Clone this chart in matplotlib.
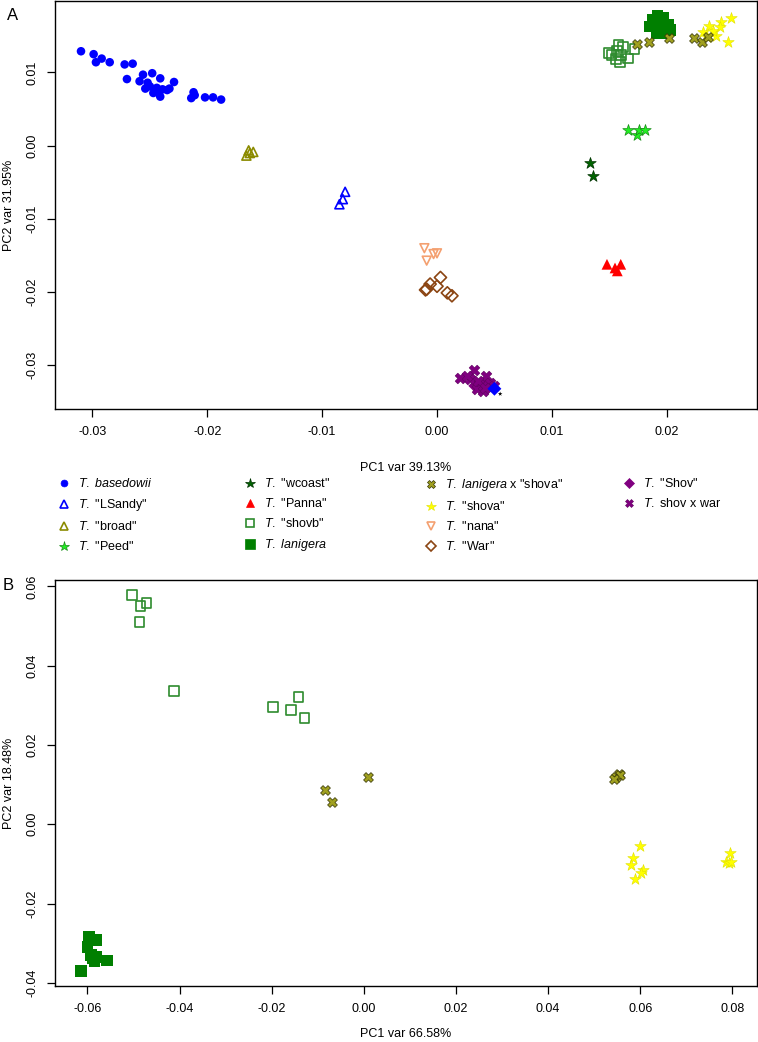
import matplotlib
matplotlib.use("Agg")
import matplotlib.pyplot as plt
from matplotlib.lines import Line2D
from matplotlib.ticker import MultipleLocator, FormatStrFormatter

plt.rcParams["font.family"] = ["Liberation Sans", "DejaVu Sans"]
plt.rcParams["mathtext.fontset"] = "custom"
plt.rcParams["mathtext.rm"] = "Liberation Sans"
plt.rcParams["mathtext.it"] = "Liberation Sans:italic"
plt.rcParams["axes.unicode_minus"] = False

# ---- panel A data (PC1, PC2) ----
basedowii_x = [-0.0310, -0.0299, -0.0297, -0.0292, -0.0285, -0.0272, -0.0265, -0.0270, -0.0259, -0.0256,
               -0.0252, -0.0248, -0.0254, -0.0250, -0.0241, -0.0245, -0.0244, -0.0241, -0.0239, -0.0235,
               -0.0233, -0.0229, -0.0214, -0.0212, -0.0211, -0.0202, -0.0195, -0.0188, -0.0242, -0.0247]
basedowii_y = [0.0129, 0.0125, 0.0114, 0.0119, 0.0114, 0.0111, 0.0112, 0.0091, 0.0088, 0.0097,
               0.0086, 0.0099, 0.0078, 0.0081, 0.0092, 0.0077, 0.0079, 0.0067, 0.0077, 0.0076,
               0.0078, 0.0087, 0.0065, 0.0073, 0.0069, 0.0066, 0.0066, 0.0063, 0.0073, 0.0072]
lsandy_x = [-0.0080, -0.0082, -0.0085]
lsandy_y = [-0.0063, -0.0073, -0.0080]
broad_x = [-0.0166, -0.0164, -0.0160, -0.0163]
broad_y = [-0.00135, -0.00064, -0.00085, -0.0010]
peed_x = [0.0166, 0.0174, 0.0176, 0.0181]
peed_y = [0.0022, 0.0015, 0.0022, 0.0022]
wcoast_x = [0.0133, 0.0136]
wcoast_y = [-0.0023, -0.0042]
panna_x = [0.0148, 0.0155, 0.0157, 0.0160]
panna_y = [-0.0162, -0.0167, -0.0171, -0.0162]
shovb_x = [0.0150, 0.0157, 0.0158, 0.0162, 0.0156, 0.0159, 0.0166, 0.0172, 0.0152, 0.0160]
shovb_y = [0.0127, 0.0129, 0.0138, 0.0135, 0.0118, 0.0114, 0.0119, 0.0132, 0.0124, 0.0124]
lanigera_x = [0.0185, 0.0192, 0.0197, 0.0201, 0.0191, 0.0198, 0.0194, 0.0188, 0.0203]
lanigera_y = [0.0163, 0.0177, 0.0174, 0.0165, 0.0154, 0.0154, 0.0167, 0.0172, 0.0158]
shova_x = [0.0256, 0.0247, 0.0246, 0.0237, 0.0232, 0.0243, 0.0253, 0.0240, 0.0235]
shova_y = [0.0175, 0.0169, 0.0162, 0.0163, 0.0155, 0.0150, 0.0142, 0.0156, 0.0149]
lanxshova_x = [0.0174, 0.0185, 0.0202, 0.0224, 0.0231, 0.0236]
lanxshova_y = [0.0139, 0.0141, 0.0147, 0.0147, 0.0141, 0.0148]
nana_x = [-0.0011, -0.0003, 0.0000, -0.0009]
nana_y = [-0.0140, -0.0148, -0.0147, -0.0157]
war_x = [0.0003, -0.0006, -0.0009, 0.0000, 0.0009, 0.0013, -0.0010]
war_y = [-0.0180, -0.0189, -0.0196, -0.0192, -0.0201, -0.0205, -0.0197]
shov_x = [0.0033, 0.0042]
shov_y = [-0.0328, -0.0328]
shovxwar_x = [0.0020, 0.0032, 0.0043, 0.0029, 0.0037, 0.0035, 0.0046, 0.0050, 0.0040, 0.0026, 0.0036, 0.0042]
shovxwar_y = [-0.0317, -0.0306, -0.0315, -0.0319, -0.0326, -0.0333, -0.0324, -0.0328, -0.0335, -0.0315, -0.0321, -0.0331]
odd_diamond_x = [0.0050]
odd_diamond_y = [-0.0332]
odd_star_x = [0.0055]
odd_star_y = [-0.0339]

# ---- panel B data ----
b_shovb_x = [-0.0504, -0.0485, -0.0472, -0.0487, -0.0412, -0.0197, -0.0158, -0.0142, -0.0129]
b_shovb_y = [0.0578, 0.0551, 0.0558, 0.0511, 0.0337, 0.0295, 0.0289, 0.0321, 0.0267]
b_lanigera_x = [-0.0596, -0.0581, -0.0600, -0.0592, -0.0581, -0.0585, -0.0558, -0.0614, -0.0589]
b_lanigera_y = [-0.0284, -0.0292, -0.0310, -0.0330, -0.0335, -0.0346, -0.0344, -0.0370, -0.0337]
b_shova_x = [0.0600, 0.0585, 0.0580, 0.0605, 0.0602, 0.0589, 0.0795, 0.0786, 0.0793, 0.0797]
b_shova_y = [-0.0055, -0.0086, -0.0103, -0.0116, -0.0124, -0.0138, -0.0072, -0.0095, -0.0099, -0.0096]
b_lanxshova_x = [-0.0085, -0.0069, 0.0009, 0.0548, 0.0553, 0.0556, 0.0544]
b_lanxshova_y = [0.0086, 0.0055, 0.0119, 0.0119, 0.0126, 0.0123, 0.0115]

# marker styles per group
STY = {
    "basedowii": dict(marker="o", s=38, c="#0000FF", edgecolors="none"),
    "lsandy": dict(marker="^", s=42, facecolors="none", edgecolors="#0000FF", linewidths=1.2),
    "broad": dict(marker="^", s=42, facecolors="none", edgecolors="#8B8B00", linewidths=1.2),
    "peed": dict(marker="*", s=75, c="#22EE22", edgecolors="#1A8A1A", linewidths=0.5),
    "wcoast": dict(marker="*", s=75, c="#006400", edgecolors="#003300", linewidths=0.5),
    "panna": dict(marker="^", s=60, c="#FF0000", edgecolors="none"),
    "shovb": dict(marker="s", s=50, facecolors="none", edgecolors="#2E8B2E", linewidths=1.2),
    "lanigera": dict(marker="s", s=70, c="#007F00", edgecolors="none"),
    "shova": dict(marker="*", s=75, c="#FFFF00", edgecolors="#E0E000", linewidths=0.4),
    "lanxshova": dict(marker="X", s=50, c="#A0A020", edgecolors="#333300", linewidths=0.5),
    "nana": dict(marker="v", s=40, facecolors="none", edgecolors="#F4A070", linewidths=1.2),
    "war": dict(marker="D", s=38, facecolors="none", edgecolors="#8B4513", linewidths=1.2),
    "shov": dict(marker="D", s=45, c="#800080", edgecolors="none"),
    "shovxwar": dict(marker="X", s=60, c="#800080", edgecolors="#600060", linewidths=0.4),
}

fig = plt.figure(figsize=(7.58, 10.42), dpi=100)
W, H = 758.0, 1042.0
ax1 = fig.add_axes([55 / W, 1 - 409 / H, 702 / W, 408 / H])
ax2 = fig.add_axes([55 / W, 1 - 986 / H, 702 / W, 406 / H])

groups_a = [
    ("basedowii", basedowii_x, basedowii_y),
    ("lsandy", lsandy_x, lsandy_y),
    ("broad", broad_x, broad_y),
    ("peed", peed_x, peed_y),
    ("wcoast", wcoast_x, wcoast_y),
    ("panna", panna_x, panna_y),
    ("shovb", shovb_x, shovb_y),
    ("lanigera", lanigera_x, lanigera_y),
    ("shova", shova_x, shova_y),
    ("lanxshova", lanxshova_x, lanxshova_y),
    ("nana", nana_x, nana_y),
    ("war", war_x, war_y),
    ("shov", shov_x, shov_y),
    ("shovxwar", shovxwar_x, shovxwar_y),
]
for key, xs, ys in groups_a:
    ax1.scatter(xs, ys, **STY[key])
ax1.scatter(odd_diamond_x, odd_diamond_y, marker="D", s=50, c="#0000FF", edgecolors="none")
ax1.scatter(odd_star_x, odd_star_y, marker="*", s=12, c="#000000", edgecolors="none")

groups_b = [
    ("shovb", b_shovb_x, b_shovb_y),
    ("lanigera", b_lanigera_x, b_lanigera_y),
    ("shova", b_shova_x, b_shova_y),
    ("lanxshova", b_lanxshova_x, b_lanxshova_y),
]
for key, xs, ys in groups_b:
    ax2.scatter(xs, ys, **STY[key])

for ax, step in [(ax1, 0.01), (ax2, 0.02)]:
    ax.margins(0.04)
    ax.xaxis.set_major_locator(MultipleLocator(step))
    ax.yaxis.set_major_locator(MultipleLocator(step))
    ax.xaxis.set_major_formatter(FormatStrFormatter("%.2f"))
    ax.yaxis.set_major_formatter(FormatStrFormatter("%.2f"))
    ax.tick_params(direction="out", length=6, width=0.9, pad=6, labelsize=9)
    for lab in ax.get_yticklabels():
        lab.set_rotation(90)
        lab.set_va("center")
    for sp in ax.spines.values():
        sp.set_linewidth(1.0)

ax1.set_xlabel("PC1 var 39.13%", fontsize=9)
ax1.set_ylabel("PC2 var 31.95%", fontsize=9)
ax2.set_xlabel("PC1 var 66.58%", fontsize=9)
ax2.set_ylabel("PC2 var 18.48%", fontsize=9)
ax1.xaxis.set_label_coords(0.5, -53 / 408, transform=ax1.transAxes)
ax2.xaxis.set_label_coords(0.5, -42 / 406, transform=ax2.transAxes)
ax1.yaxis.set_label_coords(-40 / 702, 0.5, transform=ax1.transAxes)
ax2.yaxis.set_label_coords(-40 / 702, 0.5, transform=ax2.transAxes)

fig.text(13 / W, 1 - 15 / H, "A", fontsize=12, ha="center", va="center")
fig.text(8 / W, 1 - 585 / H, "B", fontsize=12, ha="center", va="center")

# legend, four columns
legend_cols = [
    [("basedowii", r"$\it{T.\ basedowii}$"),
     ("lsandy", r'$\it{T.}$ "LSandy"'),
     ("broad", r'$\it{T.}$ "broad"'),
     ("peed", r'$\it{T.}$ "Peed"')],
    [("wcoast", r'$\it{T.}$ "wcoast"'),
     ("panna", r'$\it{T.}$ "Panna"'),
     ("shovb", r'$\it{T.}$ "shovb"'),
     ("lanigera", r"$\it{T.\ lanigera}$")],
    [("lanxshova", r'$\it{T.\ lanigera}$ x "shova"'),
     ("shova", r'$\it{T.}$ "shova"'),
     ("nana", r'$\it{T.}$ "nana"'),
     ("war", r'$\it{T.}$ "War"')],
    [("shov", r'$\it{T.}$ "Shov"'),
     ("shovxwar", r"$\it{T.}$ shov x war")],
]
col_x = [58, 244, 425, 623]


def legend_handle(key):
    st = STY[key]
    face = st.get("c", st.get("facecolors"))
    edge = st.get("edgecolors")
    if edge == "none":
        edge = face
    size = (st["s"] ** 0.5) * 0.8
    return Line2D([], [], linestyle="none", marker=st["marker"], markersize=size,
                  markerfacecolor=face, markeredgecolor=edge,
                  markeredgewidth=st.get("linewidths", 0.5))


for xpix, entries in zip(col_x, legend_cols):
    handles = [legend_handle(k) for k, _ in entries]
    labels = [t for _, t in entries]
    fig.legend(handles, labels, loc="upper left", bbox_to_anchor=(xpix / W, 1 - 477 / H),
               frameon=False, fontsize=9, handlelength=1.0, handletextpad=0.6,
               borderpad=0, borderaxespad=0, labelspacing=0.56)

fig.savefig("out.png", dpi=100)
